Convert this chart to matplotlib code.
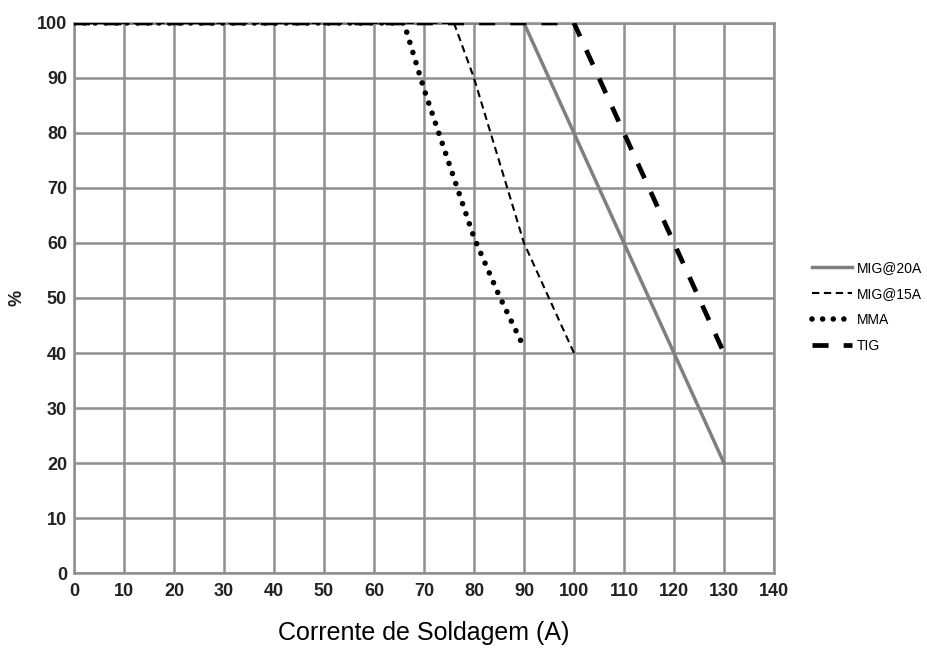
import matplotlib
matplotlib.use("Agg")
import matplotlib.pyplot as plt

plt.rcParams['font.family'] = ['Liberation Sans', 'DejaVu Sans']

# Duty cycle curves (current A, %)
mig20_x = [0, 90, 130]
mig20_y = [100, 100, 20]
mig15_x = [0, 76, 80, 90, 100]
mig15_y = [100, 100, 90, 60, 40]
mma_x = [0, 66, 70, 75, 80, 85, 90]
mma_y = [100, 100, 88, 74.5, 61, 50.5, 41]
tig_x = [0, 100, 130]
tig_y = [100, 100, 40]

x_ticks = list(range(0, 141, 10))
y_ticks = list(range(0, 101, 10))

grid_col = '#8f8f8f'

fig = plt.figure(figsize=(9.28, 6.62), dpi=100)
ax = fig.add_axes([0.0797, 0.1344, 0.7543, 0.8309])

ax.plot(mig20_x, mig20_y, color='#808080', lw=2.5, label='MIG@20A', zorder=3)
ax.plot(mig15_x, mig15_y, color='black', lw=1.5, linestyle=(0, (3.5, 2.2)), label='MIG@15A', zorder=4)
ax.plot(mma_x, mma_y, color='black', lw=4.0, linestyle=(0, (0.01, 1.9)),
        dash_capstyle='round', label='MMA', zorder=4)
ax.plot(tig_x, tig_y, color='black', lw=3.4, linestyle=(0, (3.4, 3.2)), label='TIG', zorder=4)

ax.set_xlim(0, 140)
ax.set_ylim(0, 100)
ax.set_xticks(x_ticks)
ax.set_yticks(y_ticks)
ax.grid(True, color=grid_col, lw=1.8)
ax.set_axisbelow(True)
for s in ax.spines.values():
    s.set_color(grid_col)
    s.set_linewidth(1.8)
ax.tick_params(length=0, labelsize=13)
ax.tick_params(axis='x', pad=7)
ax.tick_params(axis='y', pad=5)
for lab in ax.get_xticklabels() + ax.get_yticklabels():
    lab.set_fontweight('bold')
    lab.set_color('#222222')

ax.set_xlabel('Corrente de Soldagem (A)', fontsize=18, labelpad=15.5)
ax.set_ylabel('%', fontsize=13, fontweight='bold', rotation=90, labelpad=8, color='#222222')

ax.legend(loc='center left', bbox_to_anchor=(812 / 928, 1 - 307 / 662),
          bbox_transform=fig.transFigure, frameon=False, borderpad=0, borderaxespad=0,
          fontsize=10, handlelength=2.9, handletextpad=0.3, labelspacing=0.88)

fig.savefig('out.png', dpi=100)
